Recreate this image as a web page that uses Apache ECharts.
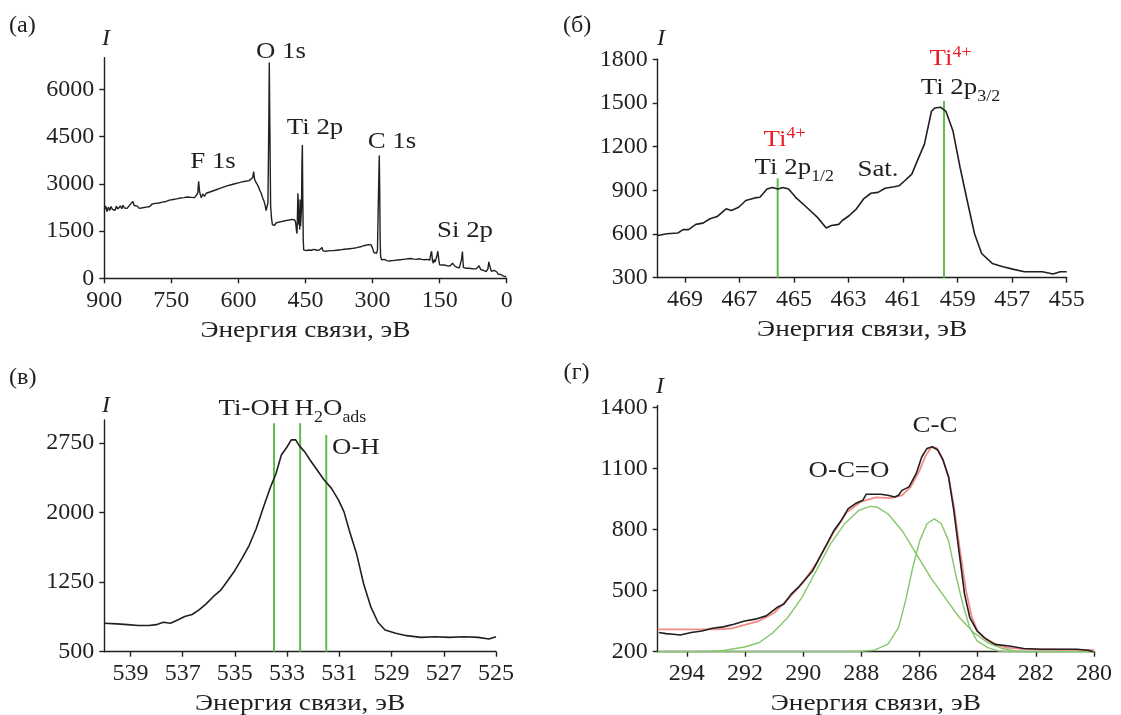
<!DOCTYPE html>
<html>
<head>
<meta charset="utf-8">
<script src="https://cdn.jsdelivr.net/npm/echarts@6/dist/echarts.min.js"></script>
<style>
  html, body { margin: 0; padding: 0; background: #fff; }
  #chart { width: 1121px; height: 715px; }
</style>
</head>
<body>
<div id="chart"></div>
<script>
// ---- XPS spectra: binding energy (eV) vs intensity I ----

// (а) survey spectrum
const surveyData = [
  [900,2170],[897,2300],[894,2120],[891,2260],[888,2150],[885,2280],[882,2190],[879,2250],[876,2160],[873,2290],
  [870,2200],[867,2240],[864,2300],[861,2210],[858,2320],[855,2230],[852,2290],[849,2220],[846,2270],[843,2330],
  [840,2280],[836,2440],[833,2310],[830,2250],[826,2290],[822,2220],[818,2280],[814,2240],[810,2300],[806,2260],
  [802,2320],[798,2280],[794,2350],[790,2300],[786,2380],[782,2330],[778,2390],[774,2350],[770,2420],[766,2380],
  [762,2440],[758,2400],[754,2480],[750,2450],[746,2500],[742,2470],[738,2520],[734,2480],[730,2550],[726,2510],
  [722,2560],[718,2530],[714,2580],[710,2540],[706,2570],[702,2520],[698,2560],[694,2540],[691,2700],[689,3080],
  [687,2760],[685,2640],[683,2560],[680,2680],[676,2600],[672,2700],[668,2640],[664,2740],[660,2680],[656,2780],
  [652,2720],[648,2820],[644,2760],[640,2860],[636,2800],[632,2900],[628,2840],[624,2940],[620,2880],[616,2970],
  [612,2910],[608,3000],[604,2950],[600,3030],[596,2970],[592,3060],[588,3000],[584,3080],[580,3020],[576,3100],
  [572,3050],[568,3200],[566,3390],[564,3150],[561,3050],[558,2980],[555,2900],[552,2780],[549,2700],[546,2560],
  [543,2460],[540,2300],[538,2150],[536,2100],[534,2400],[532,5000],[531,6850],[530,5200],[528,2300],[526,1900],
  [524,1700],[522,1720],[519,1680],[516,1760],[513,1710],[510,1780],[507,1730],[504,1800],[501,1750],[498,1820],
  [495,1770],[492,1840],[489,1790],[486,1850],[483,1800],[480,1870],[477,1820],[474,1850],[472,1760],[470,1500],
  [469,1420],[468,2000],[467,2700],[466,2400],[465,1700],[464,2200],[463,1550],[462,2500],[461,1650],[460,1600],
  [459,2200],[458,3600],[457,4230],[456,2500],[455,1200],[454,900],[452,860],[449,880],[446,840],[443,900],
  [440,860],[437,890],[434,850],[431,920],[428,870],[425,890],[422,840],[419,900],[416,850],[413,980],
  [411,870],[408,920],[405,860],[402,900],[399,870],[396,910],[393,880],[390,920],[387,880],[384,930],
  [381,890],[378,940],[375,900],[372,950],[369,910],[366,960],[363,920],[360,970],[357,930],[354,980],
  [351,940],[348,990],[345,950],[342,1000],[339,960],[336,1020],[333,980],[330,1040],[327,1000],[324,1060],
  [321,1030],[318,1090],[315,1050],[312,1110],[309,1070],[306,1120],[303,1060],[300,950],[297,820],[294,800],
  [291,790],[289,900],[287,2500],[285,3900],[284,2800],[283,1200],[282,700],[280,590],[277,560],[274,600],
  [271,570],[268,560],[265,590],[262,550],[259,580],[256,560],[253,600],[250,570],[247,610],[244,580],
  [241,620],[238,590],[235,630],[232,600],[229,640],[226,610],[223,650],[220,620],[217,660],[214,630],
  [211,650],[208,610],[205,640],[202,600],[199,660],[196,620],[193,640],[190,600],[187,630],[184,590],
  [181,620],[178,600],[176,640],[174,620],[172,580],[170,760],[168,860],[166,560],[164,480],[162,600],
  [160,520],[158,560],[156,720],[154,860],[152,600],[150,430],[148,470],[145,420],[142,380],[139,420],
  [136,380],[133,400],[130,370],[127,390],[124,440],[121,480],[119,420],[117,400],[115,360],[112,350],
  [109,380],[106,330],[103,340],[101,600],[99,850],[97,350],[95,310],[92,320],[89,290],[86,320],
  [83,300],[80,310],[77,280],[74,300],[71,290],[68,300],[65,280],[62,400],[60,350],[58,280],
  [55,300],[52,250],[49,260],[46,210],[44,240],[42,300],[40,520],[38,560],[36,300],[34,220],
  [32,230],[30,200],[28,250],[26,270],[24,230],[22,200],[19,130],[16,110],[13,120],[10,90],
  [7,70],[4,60],[1,50],[0,60]
];
const surveyTicksY = [0, 1500, 3000, 4500, 6000];

// (б) Ti 2p region
const ti2pData = [
  [470.0,590],[469.66,602],[469.26,607],[469.07,630],[468.87,630],[468.6,666],[468.34,675],[468.08,705],
  [467.82,720],[467.49,773],[467.3,761],[467.03,784],[466.77,830],[466.44,848],[466.25,852],[465.99,909],
  [465.79,920],[465.59,909],[465.4,920],[465.2,909],[464.94,852],[464.54,784],[464.15,716],[463.82,641],
  [463.63,659],[463.36,666],[463.23,693],[462.97,727],[462.71,773],[462.45,841],[462.18,880],[461.92,886],
  [461.66,914],[461.33,925],[461.14,932],[460.94,966],[460.68,1011],[460.48,1102],[460.22,1216],[459.96,1443],
  [459.83,1466],[459.63,1471],[459.43,1443],[459.17,1307],[458.91,1057],[458.65,830],[458.38,602],[458.12,466],
  [457.73,398],[457.34,375],[456.94,357],[456.55,341],[455.89,341],[455.5,325],[455.24,341],[455.0,341]
];
const ti2pMarkers = [[465.6, 983], [459.5, 1513]];   // [energy, top of line]
const ti2pTicksX = [469, 467, 465, 463, 461, 459, 457, 455];

// (в) O 1s region
const o1sData = [
  [540.0,807],[539.52,800],[539.11,792],[538.7,782],[538.29,782],[538.01,792],[537.74,818],[537.47,807],
  [537.19,843],[536.92,879],[536.64,901],[536.37,951],[536.1,1016],[535.82,1096],[535.55,1161],[535.27,1269],
  [535.0,1377],[534.73,1504],[534.45,1648],[534.18,1829],[533.9,2064],[533.63,2280],[533.42,2425],[533.22,2623],
  [533.01,2706],[532.84,2786],[532.67,2786],[532.53,2721],[532.33,2659],[532.12,2569],[531.85,2461],[531.58,2352],
  [531.3,2262],[531.03,2136],[530.82,2009],[530.62,1811],[530.34,1558],[530.07,1233],[529.79,980],[529.52,818],
  [529.25,735],[528.84,699],[528.42,673],[527.88,655],[527.33,662],[526.78,655],[526.23,662],[525.68,655],
  [525.27,637],[525.0,662]
];
const o1sMarkers = [[533.5, 2964], [532.5, 2964], [531.5, 2838]];
const o1sTicksX = [539, 537, 535, 533, 531, 529, 527, 525];
const o1sTicksY = [500, 1250, 2000, 2750];

// (г) C 1s region: measured curve, envelope and two components
const c1sData = [
  [294.96,294],[294.71,289],[294.47,286],[294.22,282],[293.85,294],[293.48,302],[293.12,315],[292.75,322],
  [292.38,335],[292.01,351],[291.64,360],[291.27,376],[290.9,417],[290.66,434],[290.41,483],[290.17,516],
  [289.92,557],[289.67,598],[289.43,664],[289.18,730],[288.94,796],[288.69,845],[288.45,903],[288.2,928],
  [287.95,944],[287.83,974],[287.58,974],[287.34,974],[287.09,969],[286.85,960],[286.72,969],[286.6,993],
  [286.36,1010],[286.11,1076],[285.92,1158],[285.74,1199],[285.56,1207],[285.37,1191],[285.19,1141],[285.0,1059],
  [284.82,895],[284.63,681],[284.45,483],[284.27,368],[284.02,302],[283.77,269],[283.41,236],[282.91,228],
  [282.42,216],[281.81,212],[281.19,212],[280.58,212],[280.21,207],[280.03,200]
];
const c1sEnvelope = [
  [295,310],[294,310],[293,310],[292.5,314],[292,332],[291.5,352],[291,390],[290.5,462],[290,540],
  [289.5,645],[289,775],[288.5,885],[288,938],[287.5,958],[287,955],[286.6,968],[286.3,1010],[286,1090],
  [285.8,1160],[285.6,1205],[285.4,1200],[285.2,1148],[285,1060],[284.8,900],[284.6,690],[284.4,500],
  [284.2,370],[284,300],[283.7,258],[283.3,232],[283,220],[282.5,214],[282,212],[281,210],[280,208]
];
const c1sOCO = [
  [295,200],[293.2,201],[292.75,206],[292.01,223],[291.52,244],[291.03,294],[290.53,368],[290.04,467],
  [289.55,598],[289.06,730],[288.57,829],[288.08,895],[287.71,914],[287.46,911],[287.09,878],[286.6,796],
  [286.11,681],[285.62,565],[285.13,467],[284.63,368],[284.14,294],[283.65,244],[283.16,216],[282.67,203],
  [282.2,200],[280,200]
];
const c1sCC = [
  [295,200],[288.2,200],[287.58,207],[287.09,236],[286.72,318],[286.48,450],[286.23,615],[285.99,746],
  [285.74,829],[285.49,853],[285.25,829],[285.0,746],[284.76,582],[284.51,434],[284.27,318],[284.02,253],
  [283.65,220],[283.28,203],[282.8,200],[280,200]
];
const c1sTicksX = [294, 292, 290, 288, 286, 284, 282, 280];
const c1sTicksY = [200, 500, 800, 1100, 1400];

const axisTitle = 'Энергия связи, эВ';

// ---- styling ----
const FONT = 'Liberation Serif';
const INK = '#231f20';
const GREEN = '#5fbd4a';
const GREEN_FIT = '#86c66c';
const RED_TEXT = '#ed1c24';
const RED_FIT = '#f28b86';
const WIDE = 1.12;   // the serif lettering is set slightly wide

const gridBoxes = [
  { left: 104.3, top: 57.8, width: 402.4, height: 220.5 },
  { left: 657.7, top: 59.3, width: 409, height: 218.4 },
  { left: 104.3, top: 420, width: 391.7, height: 231.7 },
  { left: 657.7, top: 405.5, width: 436.3, height: 246.2 }
];
const grids = gridBoxes.map(g => Object.assign({ outerBoundsMode: 'none', containLabel: false }, g));

const labelStyle = { fontFamily: FONT, fontSize: 24, color: INK, formatter: v => String(v) };

function xAxisFor(i, min, max, extra) {
  return Object.assign({
    type: 'value', gridIndex: i, inverse: true, min: min, max: max,
    axisLine: { onZero: false, lineStyle: { color: INK, width: 1.4 } },
    axisTick: { inside: false, length: 5, lineStyle: { color: INK, width: 1.4 } },
    axisLabel: Object.assign({ margin: 10 }, labelStyle),
    splitLine: { show: false }
  }, extra || {});
}
function yAxisFor(i, min, max, extra) {
  return Object.assign({
    type: 'value', gridIndex: i, min: min, max: max,
    axisLine: { show: true, onZero: false, lineStyle: { color: INK, width: 1.4 } },
    axisTick: { show: true, inside: false, length: 5, lineStyle: { color: INK, width: 1.4 } },
    axisLabel: Object.assign({ margin: 10 }, labelStyle),
    splitLine: { show: false }
  }, extra || {});
}
function withCustom(axis, values) {
  axis.axisTick.customValues = values;
  axis.axisLabel.customValues = values;
  return axis;
}

const xAxes = [
  xAxisFor(0, 0, 900, { interval: 150 }),
  withCustom(xAxisFor(1, 455, 470), ti2pTicksX),
  withCustom(xAxisFor(2, 525, 540), o1sTicksX),
  withCustom(xAxisFor(3, 280, 295), c1sTicksX)
];
const yAxes = [
  withCustom(yAxisFor(0, 0, 7000), surveyTicksY),
  yAxisFor(1, 300, 1800, { interval: 300 }),
  withCustom(yAxisFor(2, 500, 3000), o1sTicksY),
  withCustom(yAxisFor(3, 200, 1410), c1sTicksY)
];

function curve(i, data, color, width, z) {
  return {
    type: 'line', xAxisIndex: i, yAxisIndex: i, data: data,
    showSymbol: false, symbol: 'none', smooth: false, z: z || 2,
    lineStyle: { color: color, width: width }, silent: true
  };
}
function markerLines(i, markers, base) {
  return markers.map(m => curve(i, [[m[0], base], [m[0], m[1]]], GREEN, 2, 1));
}

const series = [
  curve(0, surveyData, INK, 1.4),
  ...markerLines(1, ti2pMarkers, yAxes[1].min),
  curve(1, ti2pData, INK, 1.6, 3),
  ...markerLines(2, o1sMarkers, yAxes[2].min),
  curve(2, o1sData, INK, 1.6, 3),
  curve(3, c1sOCO, GREEN_FIT, 1.4, 2),
  curve(3, c1sCC, GREEN_FIT, 1.4, 2),
  curve(3, c1sEnvelope, RED_FIT, 1.8, 3),
  curve(3, c1sData, INK, 1.6, 4)
];

// ---- text annotations ----
function txt(x, y, text, opt) {
  opt = opt || {};
  return {
    type: 'text', x: x, y: y, scaleX: opt.scaleX || WIDE, silent: true, z: 10,
    style: Object.assign({
      text: text, fontFamily: FONT, fontSize: opt.size || 24,
      fontStyle: opt.italic ? 'italic' : 'normal',
      fill: opt.color || INK, align: opt.align || 'center', verticalAlign: 'middle'
    }, opt.rich ? { rich: opt.rich } : {})
  };
}
// main text + lowered subscript
const subRich = {
  m: { fontFamily: FONT, fontSize: 24, lineHeight: 34, fill: INK },
  s: { fontFamily: FONT, fontSize: 16, lineHeight: 16, verticalAlign: 'bottom', fill: INK }
};
// red "Ti" + raised charge
const supRich = {
  m: { fontFamily: FONT, fontSize: 24, lineHeight: 28, fill: RED_TEXT },
  s: { fontFamily: FONT, fontSize: 16, lineHeight: 16, verticalAlign: 'top', fill: RED_TEXT }
};

// axis titles centred under each plot
const titles = gridBoxes.map(g =>
  txt(g.left + g.width / 2, g.top + g.height + 52, axisTitle, { scaleX: 1.14 }));

const graphic = titles.concat([
  // (а)
  txt(9, 26, '(а)', { align: 'left', size: 23, scaleX: 1.05 }),
  txt(106, 39, 'I', { italic: true, size: 24, scaleX: 1 }),
  txt(281, 52, 'O 1s'),
  txt(315, 128, 'Ti 2p'),
  txt(213, 162, 'F 1s'),
  txt(392, 142, 'C 1s'),
  txt(465, 231, 'Si 2p'),
  // (б)
  txt(563, 26, '(б)', { align: 'left', size: 23, scaleX: 1.05 }),
  txt(661, 39, 'I', { italic: true, size: 24, scaleX: 1 }),
  txt(763.6, 140, '{m|Ti}{s|4+}', { align: 'left', rich: supRich }),
  txt(754.6, 168, '{m|Ti 2p}{s|1/2}', { align: 'left', rich: subRich }),
  txt(878, 170, 'Sat.'),
  txt(929.6, 59, '{m|Ti}{s|4+}', { align: 'left', rich: supRich }),
  txt(920.7, 88, '{m|Ti 2p}{s|3/2}', { align: 'left', rich: subRich }),
  // (в)
  txt(9, 378, '(в)', { align: 'left', size: 23, scaleX: 1.05 }),
  txt(106, 406, 'I', { italic: true, size: 24, scaleX: 1 }),
  txt(218.6, 409, 'Ti-OH', { align: 'left' }),
  txt(294.6, 409, '{m|H}{s|2}{m|O}{s|ads}', { align: 'left', rich: subRich }),
  txt(332, 447.5, 'O-H', { align: 'left' }),
  // (г)
  txt(563.6, 373, '(г)', { align: 'left', size: 23, scaleX: 1.05 }),
  txt(660, 387, 'I', { italic: true, size: 24, scaleX: 1 }),
  txt(849, 471, 'O-C=O'),
  txt(935, 426, 'C-C')
]);

const chart = echarts.init(document.getElementById('chart'), null, { renderer: 'canvas' });
chart.setOption({
  backgroundColor: '#ffffff',
  animation: false,
  grid: grids,
  xAxis: xAxes,
  yAxis: yAxes,
  series: series,
  graphic: graphic
});
</script>
</body>
</html>
